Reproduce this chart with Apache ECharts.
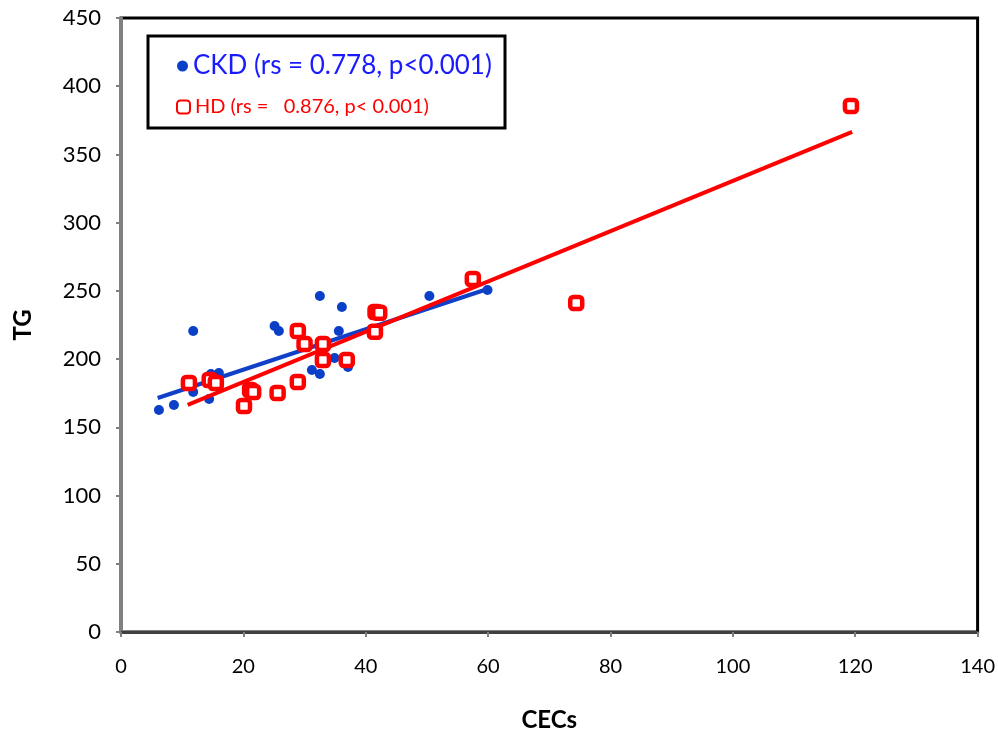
<!DOCTYPE html>
<html>
<head>
<meta charset="utf-8">
<script src="https://cdn.jsdelivr.net/npm/echarts@6/dist/echarts.min.js"></script>
<style>html,body{margin:0;padding:0;background:#fff}#c{width:998px;height:737px}</style>
</head>
<body>
<div id="c"></div>
<script>
// CKD data (CECs, TG)
var ckdX = [6.2, 8.65, 11.8, 11.8, 14.4, 14.7, 16.0, 16.0, 21.4, 25.1, 25.8, 32.5, 31.2, 32.5, 35.6, 36.1, 34.9, 37.1, 50.4, 59.9];
var ckdY = [162.7, 166.4, 220.6, 175.9, 170.8, 189.1, 189.8, 181.8, 178, 224.3, 220.6, 246.3, 192, 189.1, 220.6, 238.2, 200.8, 194.2, 246.3, 250.7];
// HD data (CECs, TG)
var hdX = [11.1, 14.5, 15.5, 20.1, 21.1, 21.6, 25.6, 28.9, 28.9, 30.0, 33.0, 33.0, 36.9, 41.6, 42.2, 41.5, 57.5, 74.4, 119.3];
var hdY = [182.5, 184.7, 182.5, 165.6, 177.4, 175.9, 175.2, 183.2, 220.6, 211, 211, 199.4, 199.4, 234.5, 234.0, 220, 258.7, 241.1, 385.5];
// trend line end points
var ckdFitX = [6.0, 59.9];
var ckdFitY = [171.5, 251.4];
var hdFitX = [10.9, 119.5];
var hdFitY = [166.4, 366.5];
var xTicks = [0, 20, 40, 60, 80, 100, 120, 140];
var yTicks = [0, 50, 100, 150, 200, 250, 300, 350, 400, 450];
var ckdName = 'CKD (rs = 0.778, p<0.001)';
var hdName = 'HD (rs =   0.876, p< 0.001)';

function pairs(xs, ys) { return xs.map(function (x, i) { return [x, ys[i]]; }); }

var FONT = 'Lato';
var chart = echarts.init(document.getElementById('c'));
chart.setOption({
  animation: false,
  backgroundColor: '#fff',
  textStyle: { fontFamily: FONT },
  grid: { left: 121, right: 19, top: 18, bottom: 105, show: true, borderColor: '#000', borderWidth: 3, backgroundColor: 'transparent' },
  xAxis: {
    type: 'value', min: xTicks[0], max: xTicks[xTicks.length - 1], interval: 20,
    name: 'CECs', nameLocation: 'middle', nameGap: 76,
    nameTextStyle: { fontFamily: FONT, fontWeight: 'bold', fontSize: 24, color: '#000' },
    axisLine: { show: true, onZero: false, lineStyle: { color: '#404040', width: 3 } },
    axisTick: { show: true, length: 5, lineStyle: { color: '#808080', width: 2 } },
    axisLabel: { fontFamily: FONT, fontSize: 20, color: '#000', margin: 25 },
    splitLine: { show: false }
  },
  yAxis: {
    type: 'value', min: yTicks[0], max: yTicks[yTicks.length - 1], interval: 50,
    name: 'TG', nameLocation: 'middle', nameGap: 86,
    nameTextStyle: { fontFamily: FONT, fontWeight: 'bold', fontSize: 24, color: '#000' },
    axisLine: { show: true, onZero: false, lineStyle: { color: '#808080', width: 3 } },
    axisTick: { show: true, length: 5, lineStyle: { color: '#808080', width: 2 } },
    axisLabel: { fontFamily: FONT, fontSize: 22, color: '#000', margin: 20 },
    splitLine: { show: false }
  },
  legend: [
    {
      orient: 'vertical', left: 177, top: 53, itemWidth: 11, itemHeight: 11, itemGap: 8, padding: 0,
      data: [{ name: ckdName, icon: 'circle', itemStyle: { color: '#0a3fc8' }, textStyle: { color: '#1a1aff', fontSize: 26, fontFamily: FONT } }]
    },
    {
      orient: 'vertical', left: 176, top: 97, itemWidth: 13, itemHeight: 13, itemGap: 8, padding: 0,
      data: [{ name: hdName, textStyle: { color: '#ff0000', fontSize: 20, fontFamily: FONT } }]
    }
  ],
  graphic: [
    { type: 'rect', shape: { x: 148, y: 36, width: 357, height: 92 }, style: { fill: 'transparent', stroke: '#000', lineWidth: 3 }, z: 10 }
  ],
  series: [
    { name: ckdName, type: 'scatter', data: pairs(ckdX, ckdY), symbol: 'circle', symbolSize: 10, itemStyle: { color: '#0a3fc8', opacity: 1 }, z: 2 },
    { name: 'ckdfit', type: 'line', data: pairs(ckdFitX, ckdFitY), symbol: 'none', lineStyle: { color: '#1040c8', width: 4 }, z: 3 },
    { name: 'hdfit', type: 'line', data: pairs(hdFitX, hdFitY), symbol: 'none', lineStyle: { color: '#ff0000', width: 4 }, z: 4 },
    { name: hdName, type: 'scatter', data: pairs(hdX, hdY), symbol: 'roundRect', symbolSize: 12, itemStyle: { color: '#fff', borderColor: '#ff0000', borderWidth: 4.5, opacity: 1 }, z: 5 }
  ]
});
</script>
</body>
</html>
